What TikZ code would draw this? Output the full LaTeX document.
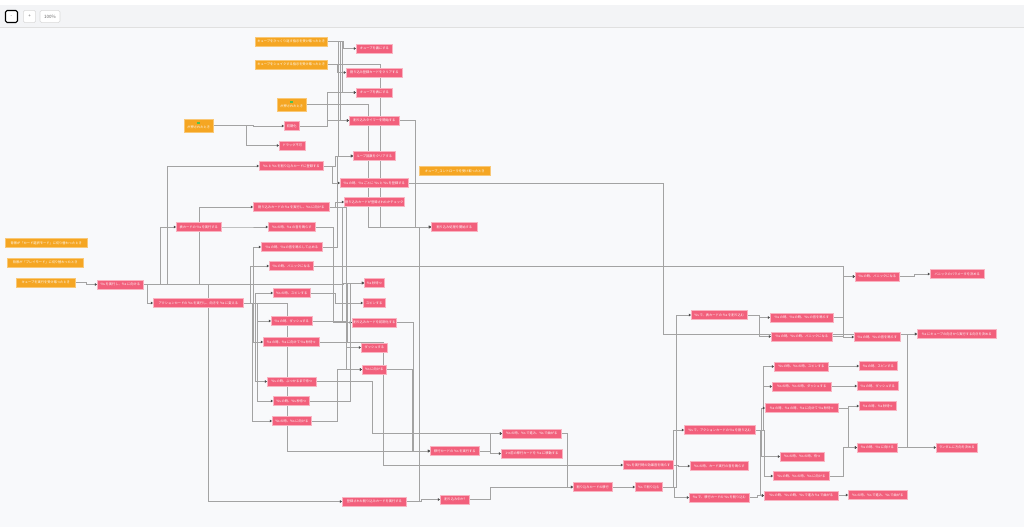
\documentclass[tikz,border=0pt]{standalone}
\usepackage{fontspec}
\newfontfamily\jpfont{Noto Sans CJK JP}
\usetikzlibrary{arrows.meta,backgrounds}
\pgfdeclarelayer{canvas}
\pgfsetlayers{canvas,background,main}
\definecolor{cardpink}{HTML}{F2607C}
\definecolor{cardline}{HTML}{F9B3C1}
\definecolor{eventorange}{HTML}{F5A623}
\definecolor{eventline}{HTML}{F9C877}
\definecolor{flaggreen}{HTML}{4CBF56}
\definecolor{canvasgray}{HTML}{F8F9FB}
\definecolor{bargray}{HTML}{F3F4F6}
\tikzset{card/.style={
            draw=cardline,
            fill=cardpink,
            line width=0.4pt,
            text=white,
            font=\jpfont\fontsize{2.3}{2.9}\selectfont,
            inner sep=0pt,
            minimum height=0.22cm,
            anchor=west
        },
        event/.style={
            card,
            draw=eventline,
            fill=eventorange
        },
        flagevent/.style={
            event,
            align=center,
            minimum height=0.325cm
        },
        link/.style={
            draw=black!36,
            line width=0.45pt,
            -{Triangle[length=1.6pt,width=2pt,color=black!70]}
        },
        toolbtn/.style={
            draw=black!15,
            fill=white,
            rounded corners=1.2pt,
            line width=0.4pt,
            font=\jpfont\fontsize{3.2}{4}\selectfont,
            text=black!60,
            inner sep=0pt,
            minimum height=0.31cm
        }
    }
\begin{document}
\begin{tikzpicture}[x=0.025cm,y=-0.025cm]
\useasboundingbox (0,0) rectangle (1024,527);
\begin{pgfonlayer}{canvas}
\fill[canvasgray] (0,0) rectangle (1024,527);
\fill[white] (0,0) rectangle (1024,5);
\fill[bargray] (0,5) rectangle (1024,27);
\draw[black!12,line width=0.4pt] (0,27)--(1024,27);
\end{pgfonlayer}
% toolbar
\node[toolbtn,draw=black,line width=0.8pt,minimum width=0.3cm,minimum height=0.3cm] (zoomout) at (11.5,16.5) {-};
\node[toolbtn,minimum width=0.31cm] (zoomin) at (29.5,16.5) {+};
\node[toolbtn,minimum width=0.5cm] (zoomlevel) at (50,16.5) {100\%};
% events
\node[event,minimum width=1.8cm] (flipmsg) at (255,41.5) {キューブをひっくり返す指示を受け取ったとき};
\node[event,minimum width=1.8cm] (shakemsg) at (255,64.5) {キューブをシェイクする指示を受け取ったとき};
\node[flagevent,minimum width=0.725cm] (flagone) at (277,104.5) {\textcolor{flaggreen}{\rule{2.2pt}{1.6pt}}\\が押されたとき};
\node[flagevent,minimum width=0.725cm] (flagtwo) at (184,125.5) {\textcolor{flaggreen}{\rule{2.2pt}{1.6pt}}\\が押されたとき};
\node[event,minimum width=1.775cm] (ctrlmsg) at (419,171) {キューブ\_コントローラを受け取ったとき};
\node[event,minimum width=2.05cm] (bgselect) at (5,243) {背景が「カード選択モード」に切り替わったとき};
\node[event,minimum width=1.9cm] (bgplay) at (7,262.5) {背景が「プレイモード」に切り替わったとき};
\node[event,minimum width=1.475cm] (runmsg) at (16,282.5) {キューブを実行を受け取ったとき};
% top column
\node[card,minimum width=0.9cm] (cubeback) at (356,48.5) {キューブを裏にする};
\node[card,minimum width=1.4cm] (clearreg) at (346,72.5) {割り込み登録カードをクリアする};
\node[card,minimum width=0.9cm] (cubefront) at (356,92.5) {キューブを表にする};
\node[card,minimum width=1.25cm] (starttimer) at (349,120.5) {割り込みタイマーを開始する};
\node[card,minimum width=0.375cm] (init) at (284,126) {初期化};
\node[card,minimum width=0.65cm] (nodrag) at (279,145.5) {ドラッグ不可};
\node[card,minimum width=1.05cm] (clearloop) at (353,156) {ループ回数をクリアする};
\node[card,minimum width=1.6cm] (regcard) at (259,166) {\%s と \%s を割り込みカードに登録する};
\node[card,minimum width=1.7cm] (regevery) at (340,183) {\%s の時、\%s ごとに \%s と \%s を登録する};
\node[card,minimum width=1.5cm] (checkreg) at (344,202) {割り込みカードが登録されたかチェック};
\node[card,minimum width=1.9cm] (runintcard) at (253,207) {割り込みカードの \%s を実行し、\%s に向ける};
\node[card,minimum width=1.15cm] (startint) at (431,227) {割り込み処理を開始する};
% left side
\node[card,minimum width=1.125cm] (runfront) at (176,227) {表カードの \%s を実行する};
\node[card,minimum width=1.15cm] (runturn) at (97,284.5) {\%s を実行し、\%s に向ける};
\node[card,minimum width=2.25cm] (runaction) at (153,303) {アクションカードの \%s を実行し、向きを \%s に変える};
\node[card,minimum width=1.175cm] (sndwhen) at (268,227) {\%s の時、\%s の音を鳴らす};
\node[card,minimum width=1.525cm] (sndstopwhen) at (261,247) {\%s の時、\%s の音を鳴らして止める};
\node[card,minimum width=1.1cm] (panicwhen) at (269,266) {\%s の時、パニックになる};
\node[card,minimum width=0.925cm] (spinwhen) at (273,293) {\%s の時、スピンする};
\node[card,minimum width=1.025cm] (dashwhen) at (271,321) {\%s の時、ダッシュする};
\node[card,minimum width=1.4cm] (turnwaitwhen) at (263,342) {\%s の時、\%s に向けて \%s 秒待つ};
\node[card,minimum width=1.225cm] (bumpwhen) at (267,381.5) {\%s の時、ぶつかるまで待つ};
\node[card,minimum width=0.9cm] (waitwhen) at (273,401) {\%s の時、\%s 秒待つ};
\node[card,minimum width=0.975cm] (turnwhen) at (272,421) {\%s の時、\%s に向ける};
% middle column
\node[card,minimum width=0.5cm] (waitsec) at (364,283) {\%s 秒待つ};
\node[card,minimum width=0.55cm] (spin) at (363,303) {スピンする};
\node[card,minimum width=1.1cm] (initint) at (352,322.5) {割り込みカードを初期化する};
\node[card,minimum width=0.65cm] (dash) at (361,347.5) {ダッシュする};
\node[card,minimum width=0.6cm] (turnto) at (362,369.5) {\%s に向ける};
% bottom middle
\node[card,minimum width=1.225cm] (runmove) at (430,451) {移行カードの \%s を実行する};
\node[card,minimum width=1.6cm] (runreg) at (342,501.5) {登録された割り込みカードを実行する};
\node[card,minimum width=0.725cm] (isint) at (440,499.5) {割り込み中か?};
\node[card,minimum width=1.475cm] (movebend) at (502,433.5) {\%s の時、\%s で進み、\%s で曲がる};
\node[card,minimum width=1.525cm] (prevmove) at (501,453.5) {1つ前の移行カードを \%s に移動する};
\node[card,minimum width=1.25cm] (runsnd) at (623,465) {\%s を実行時の効果音を鳴らす};
\node[card,minimum width=0.975cm] (intmove) at (573,487) {割り込みカードの移行};
\node[card,minimum width=0.675cm] (interrupt) at (635,487) {\%s で割り込む};
% right side
\node[card,minimum width=1.775cm] (intaction) at (684,430) {\%s で、アクションカードの \%s を割り込む};
\node[card,minimum width=1.45cm] (cardsnd) at (690,466) {\%s の時、カード実行の音を鳴らす};
\node[card,minimum width=1.5cm] (intmovecard) at (689,497.5) {\%s で、移行カードの \%s を割り込む};
\node[card,minimum width=1.4cm] (intfront) at (691,315) {\%s で、表カードの \%s を割り込む};
\node[card,minimum width=1.575cm] (sndwhentwo) at (770,317.5) {\%s の時、\%s の時、\%s の音を鳴らす};
\node[card,minimum width=1.525cm] (panicwhentwo) at (771,336.5) {\%s の時、\%s の時、パニックになる};
\node[card,minimum width=1.35cm] (spinwhentwo) at (774,366.5) {\%s の時、\%s の時、スピンする};
\node[card,minimum width=1.475cm] (dashwhentwo) at (772,386.5) {\%s の時、\%s の時、ダッシュする};
\node[card,minimum width=1.825cm] (turnwaitwhentwo) at (765,408) {\%s の時、\%s の時、\%s に向けて \%s 秒待つ};
\node[card,minimum width=1.1cm] (waitwhentwo) at (780,456.5) {\%s の時、\%s の時、待つ};
\node[card,minimum width=1.4cm] (turnwhentwo) at (773,476) {\%s の時、\%s の時、\%s に向ける};
\node[card,minimum width=1.85cm] (movebendtwo) at (764,495.5) {\%s の時、\%s の時、\%s で進み \%s で曲がる};
\node[card,minimum width=1.15cm] (sndwhenR) at (854,337) {\%s の時、\%s の音を鳴らす};
\node[card,minimum width=0.95cm] (spinwhenR) at (859,366) {\%s の時、スピンする};
\node[card,minimum width=1.025cm] (dashwhenR) at (857,386) {\%s の時、ダッシュする};
\node[card,minimum width=0.925cm] (waitwhenR) at (859,406) {\%s の時、\%s 秒待つ};
\node[card,minimum width=1.0cm] (turnwhenR) at (857,447.5) {\%s の時、\%s に向ける};
\node[card,minimum width=1.025cm] (randomdir) at (936,447.5) {ランダムに方向を決める};
\node[card,minimum width=1.475cm] (movebendR) at (848,495) {\%s の時、\%s で進み、\%s で曲がる};
\node[card,minimum width=1.1cm] (panicwhenR) at (855,276.5) {\%s の時、パニックになる};
\node[card,minimum width=1.35cm] (panicparam) at (930,274) {パニックのパラメータを決める};
\node[card,minimum width=1.975cm] (decidedir) at (917,334) {\%s にキューブの向きから実行する向きを決める};
% connectors
\begin{pgfonlayer}{background}
\foreach \src/\dst/\dx in {flipmsg/cubeback/16,flipmsg/cubefront/15,flipmsg/starttimer/13,flipmsg/clearloop/11,
    shakemsg/clearreg/10,shakemsg/startint/53,flagone/startint/62,init/cubefront/28,init/starttimer/28,
    flagtwo/init/40,flagtwo/nodrag/33,starttimer/startint/16,runreg/startint/13,runmsg/runturn/11,
    runturn/regcard/24,runturn/runfront/17,runturn/runintcard/56,runturn/runaction/4,runturn/runreg/65,
    runturn/waitsec/200,regcard/regevery/9,regcard/clearloop/12,regevery/decidedir/255,
    runintcard/checkreg/6,runintcard/initint/13,runintcard/turnto/17,runfront/sndwhen/20,
    sndwhen/initint/18,sndstopwhen/clearloop/15,panicwhen/panicwhenR/530,
    runaction/sndstopwhen/10,runaction/panicwhen/7,runaction/spinwhen/12,runaction/dashwhen/14,
    runaction/turnwaitwhen/10,runaction/bumpwhen/12,runaction/waitwhen/14,runaction/turnwhen/9,
    runaction/runmove/44,spinwhen/spin/25,dashwhen/dash/34,turnwaitwhen/waitsec/28,waitwhen/waitsec/41,
    turnwhen/turnto/26,bumpwhen/movebend/56,turnwaitwhen/runsnd/64,turnto/runmove/26,initint/runmove/17,
    runmove/movebend/11,runmove/prevmove/11,movebend/intmove/6,isint/intmove/21,runreg/isint/15,
    intmove/interrupt/10,interrupt/intaction/11,interrupt/intfront/14,interrupt/intmovecard/12,
    runsnd/cardsnd/5,intfront/sndwhentwo/12,intfront/panicwhentwo/12,intaction/spinwhentwo/8,
    intaction/dashwhentwo/8,intaction/turnwaitwhentwo/6,intaction/waitwhentwo/6,intaction/turnwhentwo/9,
    intaction/movebendtwo/5,intmovecard/movebendtwo/8,sndwhentwo/sndwhenR/10,panicwhentwo/panicwhenR/11,
    spinwhentwo/spinwhenR/15,dashwhentwo/dashwhenR/13,turnwaitwhentwo/waitwhenR/10,
    turnwaitwhentwo/turnwhenR/10,turnwhentwo/turnwhenR/14,movebendtwo/movebendR/5,
    turnwhenR/randomdir/20,turnwhenR/decidedir/10,panicwhenR/panicparam/15}
    \draw[link] (\src.east) -- ++(\dx,0) |- (\dst.west);
\end{pgfonlayer}
\end{tikzpicture}
\end{document}
